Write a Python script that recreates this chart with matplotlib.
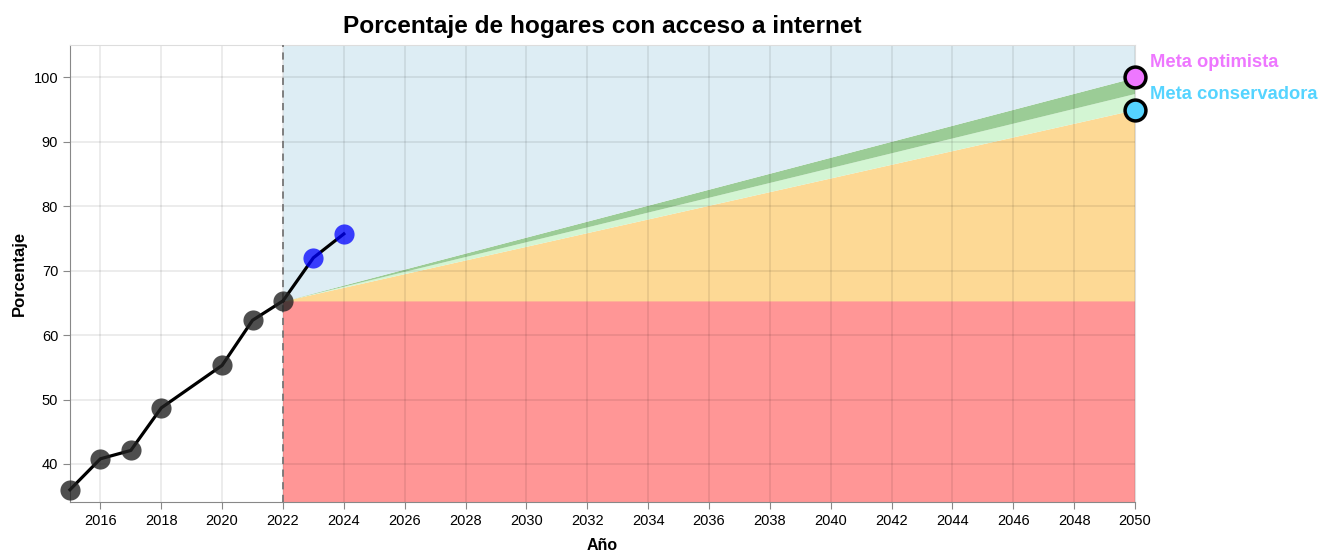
import numpy as np
import matplotlib
matplotlib.use("Agg")
import matplotlib.pyplot as plt

plt.rcParams['font.family'] = ['Liberation Sans', 'DejaVu Sans']

# datos observados
anios = [2015, 2016, 2017, 2018, 2020, 2021, 2022]
porcentaje = [36.0, 40.8, 42.1, 48.7, 55.3, 62.3, 65.3]
anios_nuevos = [2022, 2023, 2024]
porcentaje_nuevos = [65.3, 72.0, 75.7]

# escenarios hacia 2050
anios_meta = [2022, 2050]
base = 65.3
meta_conservadora = [65.3, 95.0]
meta_media = [65.3, 97.5]
meta_optimista = [65.3, 100.0]
y_min, y_max = 34.1, 105.0

fig = plt.figure(figsize=(13.3, 5.5), dpi=100)
ax = fig.add_axes([0.0526, 0.0873, 0.8008, 0.8307])

# zonas
ax.fill_between(anios_meta, y_min, [base, base], color='#ff9696', lw=0, zorder=1)
ax.fill_between(anios_meta, [base, base], meta_conservadora, color='#fdd995', lw=0, zorder=1)
ax.fill_between(anios_meta, meta_conservadora, meta_media, color='#d3f5d3', lw=0, zorder=1)
ax.fill_between(anios_meta, meta_media, meta_optimista, color='#9bcc96', lw=0, zorder=1)
ax.fill_between(anios_meta, meta_optimista, y_max, color='#ddedf4', lw=0, zorder=1)

ax.grid(True, color='black', alpha=0.09, lw=1.2, zorder=2)
ax.axvline(2022, color='#777777', ls=(0, (4, 3)), lw=1.3, zorder=3)

ax.plot(anios_nuevos, porcentaje_nuevos, color='black', lw=2.3, zorder=4)
ax.plot(anios_nuevos[1:], porcentaje_nuevos[1:], 'o', ms=14.5, color='#0000ff',
        alpha=0.75, mec='none', zorder=5)
ax.plot(anios, porcentaje, color='black', lw=2.3, zorder=4, clip_on=False)
ax.plot(anios, porcentaje, 'o', ms=14.5, color='#222222', alpha=0.8, mec='none',
        zorder=5, clip_on=False)

ax.plot([2050], [meta_optimista[1]], 'o', ms=15, color='#ee77ff', mec='black', mew=2.5,
        zorder=6, clip_on=False)
ax.plot([2050], [meta_conservadora[1]], 'o', ms=15, color='#55d4ff', mec='black', mew=2.5,
        zorder=6, clip_on=False)
ax.annotate('Meta optimista', (2050, meta_optimista[1]), xytext=(15, 15),
            textcoords='offset pixels', color='#ee77ff', fontsize=13.2,
            fontweight='bold', va='center')
ax.annotate('Meta conservadora', (2050, meta_conservadora[1]), xytext=(15, 15),
            textcoords='offset pixels', color='#55d4ff', fontsize=13.2,
            fontweight='bold', va='center')

ax.set_xlim(2015, 2050)
ax.set_ylim(y_min, y_max)
ax.set_xticks(list(range(2016, 2051, 2)))
ax.set_yticks(list(range(40, 101, 10)))
ax.tick_params(labelsize=10.5, color='#888888', length=5)
for s in ['top', 'right']:
    ax.spines[s].set_color('#dddddd')
for s in ['left', 'bottom']:
    ax.spines[s].set_color('#888888')

ax.set_xlabel('Año', fontsize=11.5, fontweight='bold', labelpad=7)
ax.set_ylabel('Porcentaje', fontsize=12, fontweight='bold', labelpad=5)
ax.set_title('Porcentaje de hogares con acceso a internet', fontsize=17.6,
             fontweight='bold', pad=9)

fig.savefig('out.png', dpi=100)
